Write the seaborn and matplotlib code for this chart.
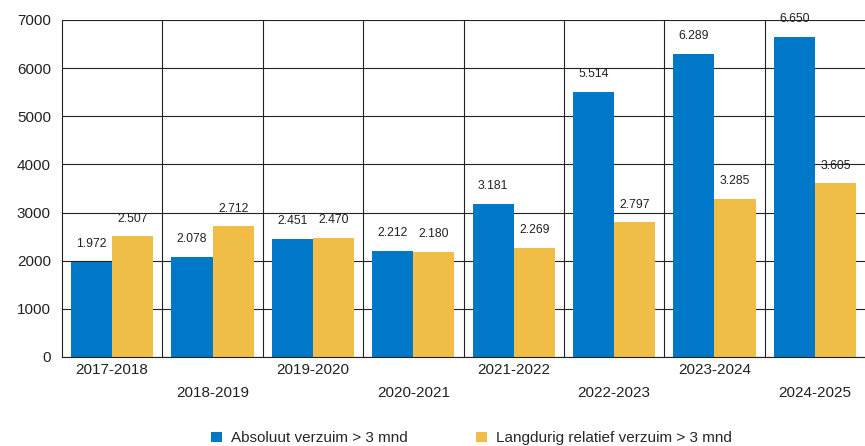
import pandas as pd
import matplotlib.pyplot as plt
import seaborn as sns

periods = ['2017-2018', '2018-2019', '2019-2020', '2020-2021',
           '2021-2022', '2022-2023', '2023-2024', '2024-2025']
absoluut = [1972, 2078, 2451, 2212, 3181, 5514, 6289, 6650]
langdurig = [2507, 2712, 2470, 2180, 2269, 2797, 3285, 3605]
series_names = ['Absoluut verzuim > 3 mnd', 'Langdurig relatief verzuim > 3 mnd']
colors = ['#0078C8', '#F0BE46']
y_ticks = [0, 1000, 2000, 3000, 4000, 5000, 6000, 7000]

sns.set_style("white")
plt.rcParams['font.family'] = ['Liberation Sans', 'DejaVu Sans']

df = pd.DataFrame({
    'period': periods * 2,
    'value': absoluut + langdurig,
    'series': [series_names[0]] * len(periods) + [series_names[1]] * len(periods),
})

fig, ax = plt.subplots(figsize=(8.65, 4.46), dpi=100)
fig.subplots_adjust(left=62 / 865, right=1.0, top=1 - 20 / 446, bottom=1 - 357 / 446)

sns.barplot(data=df, x='period', y='value', hue='series', palette=colors,
            width=0.82, saturation=1, ax=ax, edgecolor='none')

for cont in ax.containers:
    vals = cont.datavalues
    ax.bar_label(cont, labels=[f"{int(v):,}".replace(",", ".") for v in vals],
                 padding=8.5, fontsize=8.8, color='#222222')

ax.set_ylim(0, 7000)
ax.set_yticks(y_ticks)
ax.set_xlim(-0.5, len(periods) - 0.5)
ax.set_xticks(range(len(periods)))
ax.set_xticklabels(periods)
ax.set_xticks([i + 0.5 for i in range(len(periods) - 1)], minor=True)
ax.set_xlabel('')
ax.set_ylabel('')

ax.grid(axis='y', which='major', color='#222222', lw=0.8)
ax.grid(axis='x', which='minor', color='#222222', lw=0.8)
ax.set_axisbelow(True)
ax.tick_params(axis='both', which='both', length=0, labelsize=11, colors='#222222')
ax.tick_params(axis='y', pad=8)
for i, t in enumerate(ax.xaxis.get_major_ticks()):
    t.set_pad(4 if i % 2 == 0 else 21)

for s in ['top', 'right']:
    ax.spines[s].set_visible(False)
for s in ['left', 'bottom']:
    ax.spines[s].set_color('#222222')
    ax.spines[s].set_linewidth(0.8)

handles, labels = ax.get_legend_handles_labels()
ax.legend(handles, labels, loc='lower center', bbox_to_anchor=(0.51, -0.28),
          ncol=2, frameon=False, fontsize=11, handlelength=0.7, handleheight=0.7,
          handletextpad=0.6, columnspacing=4.5, borderaxespad=0)

plt.savefig('out.png', dpi=100)
